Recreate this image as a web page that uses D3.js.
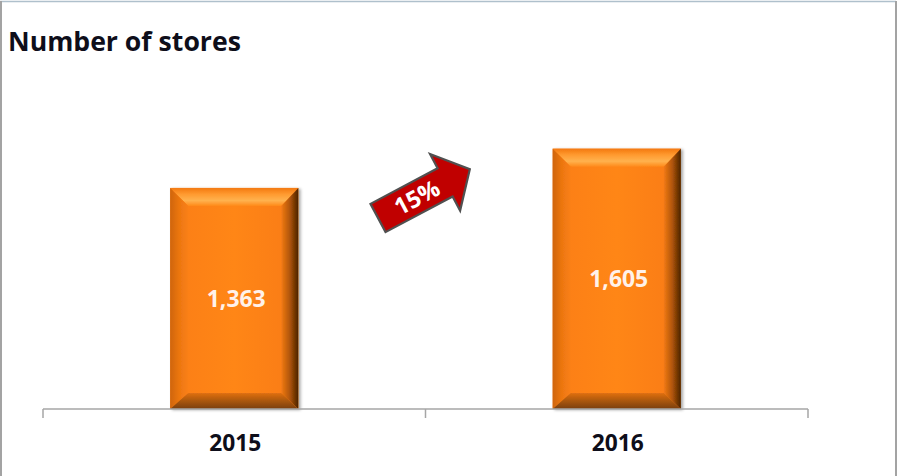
<!DOCTYPE html>
<html>
<head>
<meta charset="utf-8">
<script src="https://cdn.jsdelivr.net/npm/d3@7/dist/d3.min.js"></script>
<style>
  html, body { margin: 0; padding: 0; background: #fff; }
  svg { display: block; }
</style>
</head>
<body>
<svg id="chart" width="899" height="476"></svg>
<script>
// Store counts per year
const years = ["2015", "2016"];
const stores = [1363, 1605];
const growthLabel = ["15%"];
const chartTitle = ["Number of stores"];

const W = 899, H = 476;
const svg = d3.select("#chart");

const fmt = d3.format(",");

// Scales
const x = d3.scaleBand().domain(years).range([43, 808]).paddingInner(0).paddingOuter(0);
const y = d3.scaleLinear().domain([0, 1800]).range([409, 117]);
const barFrac = 0.335;

const defs = svg.append("defs");
function grad(id, x1, y1, x2, y2, stops) {
  const g = defs.append("linearGradient").attr("id", id)
    .attr("x1", x1).attr("y1", y1).attr("x2", x2).attr("y2", y2);
  stops.forEach(s => g.append("stop").attr("offset", s[0]).attr("stop-color", s[1]));
}
grad("gFace", "0", "0", "1", "0", [["0", "#FB7E14"], ["0.5", "#FF8616"], ["1", "#F97B12"]]);
grad("gTop", "0", "0", "0", "1", [["0", "#F37810"], ["0.35", "#FF9A30"], ["0.7", "#FFB24E"], ["1", "#FF8A1A"]]);
grad("gLeft", "0", "0", "1", "0", [["0", "#CF650D"], ["0.5", "#EC7610"], ["1", "#FA8016"]]);
grad("gRight", "0", "0", "1", "0", [["0", "#F27A14"], ["0.5", "#B05508"], ["1", "#4A2203"]]);
grad("gBottom", "0", "0", "0", "1", [["0", "#E07012"], ["0.5", "#A9560C"], ["1", "#7A3E07"]]);

const shadow = defs.append("filter").attr("id", "barShadow")
  .attr("x", "-10%").attr("y", "-10%").attr("width", "130%").attr("height", "120%");
shadow.append("feDropShadow").attr("dx", 2).attr("dy", 1).attr("stdDeviation", 1.5)
  .attr("flood-color", "#000").attr("flood-opacity", 0.35);

// Chart frame
const frame = svg.append("g");
frame.append("line").attr("x1", 0).attr("y1", 1.5).attr("x2", 896).attr("y2", 1.5)
  .attr("stroke", "#AFC0CC").attr("stroke-width", 1.5);
frame.append("line").attr("x1", 1).attr("y1", 1).attr("x2", 1).attr("y2", H)
  .attr("stroke", "#A3A3A3").attr("stroke-width", 2);
frame.append("line").attr("x1", 896).attr("y1", 1).attr("x2", 896).attr("y2", H)
  .attr("stroke", "#A3A3A3").attr("stroke-width", 2);

// Title
function fitText(sel, target) {
  const w = sel.node().getComputedTextLength();
  const fs = parseFloat(sel.attr("font-size"));
  sel.attr("font-size", (fs * target / w).toFixed(2));
}
const title = svg.append("text").attr("x", 8).attr("y", 51)
  .attr("font-family", "'Open Sans', 'Noto Sans', sans-serif").attr("font-weight", 700)
  .attr("font-size", 23).attr("fill", "#0E0E1A").text(chartTitle[0]);
fitText(title, 233);

// Bars with bevelled faces
const bars = svg.append("g").selectAll("g.bar").data(years.map((k, i) => ({ k, v: stores[i] })))
  .join("g").attr("class", "bar");

bars.each(function(d) {
  const g = d3.select(this);
  const bw = x.bandwidth() * barFrac;
  const x0 = x(d.k) + (x.bandwidth() - bw) / 2, x1 = x0 + bw;
  const y0 = y(d.v), y1 = y(0);
  const bt = 18, bl = 18, br = 17, bb = 16;
  const body = g.append("g").attr("filter", "url(#barShadow)");
  body.append("rect").attr("x", x0).attr("y", y0).attr("width", bw).attr("height", y1 - y0)
    .attr("fill", "url(#gFace)");
  const poly = (pts, fill) => body.append("polygon")
    .attr("points", pts.map(p => p.join(",")).join(" ")).attr("fill", fill);
  poly([[x0, y0], [x1, y0], [x1 - br, y0 + bt], [x0 + bl, y0 + bt]], "url(#gTop)");
  poly([[x0, y0], [x0 + bl, y0 + bt], [x0 + bl, y1 - bb], [x0, y1]], "url(#gLeft)");
  poly([[x1, y0], [x1, y1], [x1 - br, y1 - bb], [x1 - br, y0 + bt]], "url(#gRight)");
  poly([[x0, y1], [x0 + bl, y1 - bb], [x1 - br, y1 - bb], [x1, y1]], "url(#gBottom)");

  const lbl = g.append("text").attr("x", (x0 + x1) / 2 + 2).attr("y", (y0 + y1) / 2)
    .attr("dy", "0.36em").attr("text-anchor", "middle")
    .attr("font-family", "'Open Sans', 'Noto Sans', sans-serif").attr("font-weight", 700)
    .attr("font-size", 21).attr("fill", "#FFF2EA").text(fmt(d.v));
  fitText(lbl, 59);
});

// Category axis
const axisG = svg.append("g").attr("transform", `translate(0,${y(0)})`);
axisG.append("line").attr("x1", x.range()[0]).attr("x2", x.range()[1]).attr("y1", 0).attr("y2", 0)
  .attr("stroke", "#A6A6A6").attr("stroke-width", 1.5);
const tickPos = [x.range()[0], ...years.slice(1).map(k => x(k)), x.range()[1]];
axisG.selectAll("line.tick").data(tickPos).join("line").attr("class", "tick")
  .attr("x1", d => d).attr("x2", d => d).attr("y1", 0).attr("y2", 9)
  .attr("stroke", "#A6A6A6").attr("stroke-width", 1.5);
axisG.selectAll("text.cat").data(years).join("text").attr("class", "cat")
  .attr("x", d => x(d) + x.bandwidth() / 2 + 1).attr("y", 42)
  .attr("text-anchor", "middle")
  .attr("font-family", "'Open Sans', 'Noto Sans', sans-serif").attr("font-weight", 700)
  .attr("font-size", 21).attr("fill", "#0E0E1A").text(d => d)
  .each(function() { fitText(d3.select(this), 52); });

// Growth arrow between the bars
const ang = -28;
const shaftLen = 76, headLen = 28, shaftW = 32, headW = 64;
const arrow = svg.append("g").attr("transform", `translate(378,218) rotate(${ang})`);
arrow.append("polygon")
  .attr("points", [
    [0, -shaftW / 2], [shaftLen, -shaftW / 2], [shaftLen, -headW / 2], [shaftLen + headLen, 0],
    [shaftLen, headW / 2], [shaftLen, shaftW / 2], [0, shaftW / 2]
  ].map(p => p.join(",")).join(" "))
  .attr("fill", "#C00000").attr("stroke", "#505050").attr("stroke-width", 2.2)
  .attr("stroke-linejoin", "miter");
const gl = arrow.append("text").attr("x", 44).attr("y", 0).attr("dy", "0.36em")
  .attr("text-anchor", "middle")
  .attr("font-family", "'Open Sans', 'Noto Sans', sans-serif").attr("font-weight", 700)
  .attr("font-size", 20).attr("fill", "#fff").text(growthLabel[0]);
fitText(gl, 48);
</script>
</body>
</html>
